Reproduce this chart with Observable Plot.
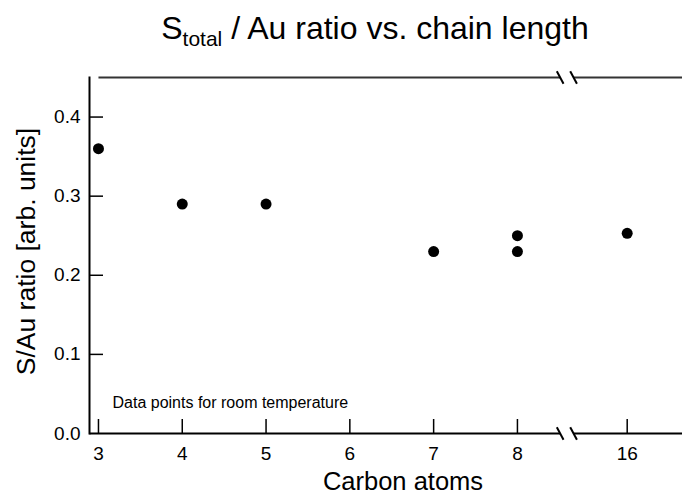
<!DOCTYPE html>
<html>
<head>
<meta charset="utf-8">
<script src="https://cdn.jsdelivr.net/npm/d3@7"></script>
<script src="https://cdn.jsdelivr.net/npm/@observablehq/plot@0.6"></script>
<style>
  html, body { margin: 0; padding: 0; background: white; }
  #title {
    width: 682px; height: 60px; box-sizing: border-box;
    padding-top: 5px; padding-left: 68px;
    text-align: center; line-height: 46px;
    font-family: "Liberation Sans", Arial, sans-serif; font-size: 32px; color: #000;
    white-space: nowrap;
  }
  #title sub { font-size: 21px; line-height: 0; vertical-align: -7px; }
</style>
</head>
<body>
<div id="title">S<sub>total</sub> / Au ratio vs. chain length</div>
<div id="chart"></div>
<script>
// ---- data ----
const carbonAtoms = [3, 4, 5, 7, 8, 8, 16];
const ratio = [0.36, 0.29, 0.29, 0.23, 0.25, 0.23, 0.253];
const xTickValues = [3, 4, 5, 6, 7, 8, 16];
const yTickValues = [0, 0.1, 0.2, 0.3, 0.4];
const xLabel = "Carbon atoms";
const yLabel = "S/Au ratio [arb. units]";
const note = "Data points for room temperature";

// ---- broken x axis: 3..8 linear, then a break, then 16 ----
const breakLeft = 8.51, breakRight = 8.67, pos16 = 9.31;
const xDomain = [2.893, 9.97];
const yDomain = [0, 0.45];
const pos = c => (c <= 8 ? c : pos16);

const W = 682, H = 435, mL = 89, mR = 0, mT = 17, mB = 62, tickLen = 14;

const points = carbonAtoms.map((c, i) => ({x: pos(c), y: ratio[i]}));
const xTicks = xTickValues.map(c => ({x: pos(c), label: String(c)}));
const yTicks = yTickValues.map(v => ({y: v, label: d3.format(".1f")(v)}));

const bottomSegs = [
  {x1: xDomain[0], x2: breakLeft, y: yDomain[0]},
  {x1: breakRight, x2: xDomain[1], y: yDomain[0]}
];
const topSegs = [
  {x1: xTickValues[0], x2: breakLeft, y: yDomain[1]},
  {x1: breakRight, x2: xDomain[1], y: yDomain[1]}
];
const slashDX = 0.04, slashDY = 0.008;
const slashes = [];
for (const yy of yDomain) for (const bx of [breakLeft, breakRight])
  slashes.push({x1: bx - slashDX, y1: yy + slashDY, x2: bx + slashDX, y2: yy - slashDY});

const chart = Plot.plot({
  width: W,
  height: H,
  marginLeft: mL,
  marginRight: mR,
  marginTop: mT,
  marginBottom: mB,
  style: {fontFamily: "'Liberation Sans', Arial, sans-serif", background: "white", color: "black"},
  x: {domain: xDomain, axis: null},
  y: {domain: yDomain, axis: null},
  marks: [
    Plot.frame({anchor: "left", stroke: "black", strokeWidth: 2}),
    Plot.link(bottomSegs, {x1: "x1", x2: "x2", y1: "y", y2: "y", stroke: "black", strokeWidth: 2}),
    Plot.link(topSegs, {x1: "x1", x2: "x2", y1: "y", y2: "y", stroke: "#333", strokeWidth: 2}),
    Plot.link(slashes, {x1: "x1", x2: "x2", y1: "y1", y2: "y2", stroke: "black", strokeWidth: 2}),
    // inward tick marks
    Plot.tickX(xTicks, {x: "x", insetTop: (H - mT - mB) - tickLen, stroke: "black", strokeWidth: 1.5}),
    Plot.tickY(yTicks.filter(d => d.y > 0), {y: "y", insetRight: (W - mL - mR) - tickLen, stroke: "black", strokeWidth: 1.5}),
    // tick labels
    Plot.text(xTicks, {x: "x", text: "label", frameAnchor: "bottom", lineAnchor: "top", dy: 13, fontSize: 19, fill: "black"}),
    Plot.text(yTicks, {y: "y", text: "label", frameAnchor: "left", textAnchor: "end", lineAnchor: "middle", dx: -9, fontSize: 19, fill: "black"}),
    Plot.dot(points, {x: "x", y: "y", r: 5.5, fill: "black", stroke: "none"}),
    Plot.text([note], {frameAnchor: "bottom-left", dx: 23, dy: -26, textAnchor: "start", lineAnchor: "bottom", fontSize: 16, fill: "black"}),
    Plot.text([xLabel], {frameAnchor: "bottom", dx: 17, dy: 56, textAnchor: "middle", lineAnchor: "bottom", fontSize: 25.5, fill: "black"}),
    Plot.text([yLabel], {frameAnchor: "left", dx: -63, dy: -4, rotate: -90, textAnchor: "middle", lineAnchor: "middle", fontSize: 26.5, fill: "black"})
  ]
});
document.getElementById("chart").appendChild(chart);
</script>
</body>
</html>
